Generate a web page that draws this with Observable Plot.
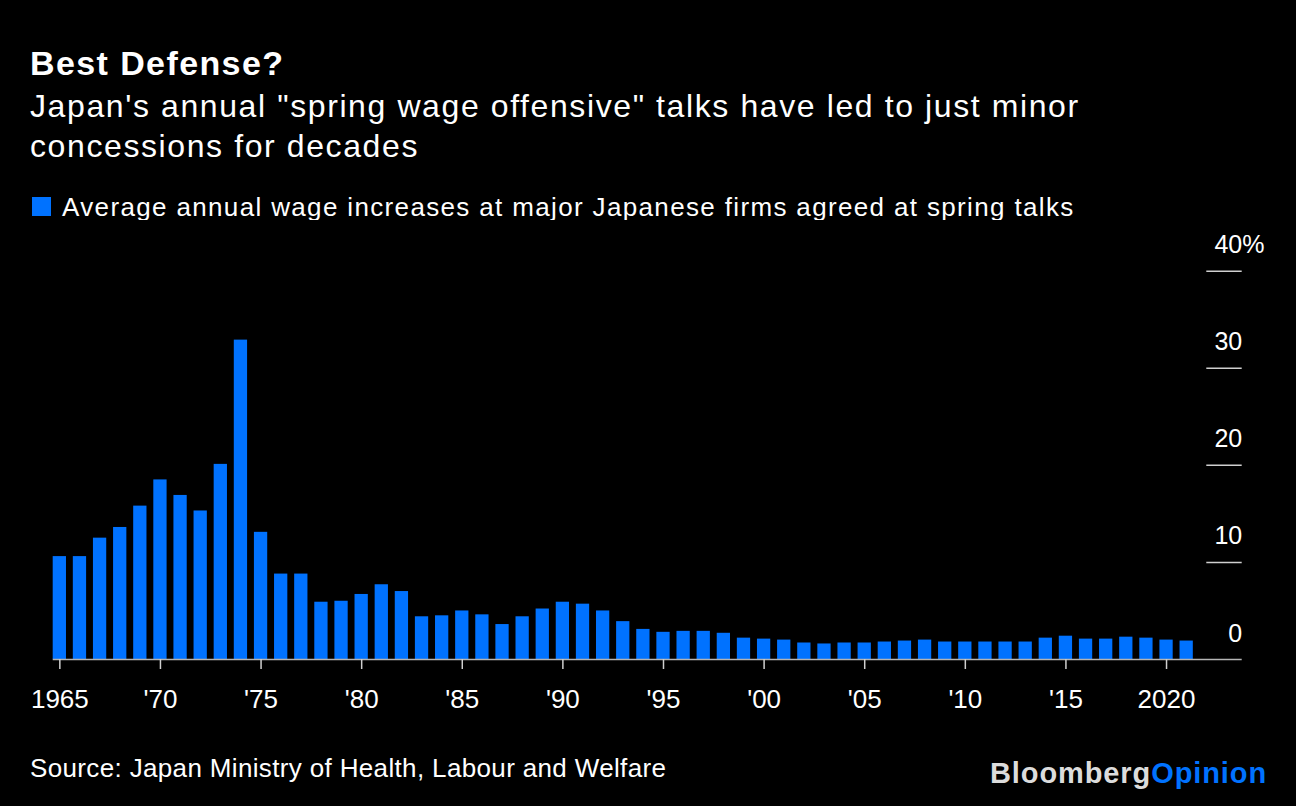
<!DOCTYPE html>
<html>
<head>
<meta charset="utf-8">
<script src="https://cdn.jsdelivr.net/npm/d3@7"></script>
<script src="https://cdn.jsdelivr.net/npm/@observablehq/plot@0.6"></script>
<style>
  html, body { margin: 0; padding: 0; background: #000; }
  body { width: 1296px; height: 806px; position: relative; overflow: hidden; font-family: "Liberation Sans", Arial, sans-serif; color: #fff; }
  .abs { position: absolute; white-space: nowrap; }
  #title { left: 30px; top: 46px; font-size: 34px; line-height: 34px; font-weight: bold; letter-spacing: 1.4px; }
  #subtitle { left: 30px; top: 86px; font-size: 32px; line-height: 40px; letter-spacing: 1.6px; }
  #swatch { left: 32px; top: 197px; width: 19px; height: 19px; background: #0072ff; }
  #legend { left: 62px; top: 194px; font-size: 26px; line-height: 26px; letter-spacing: 1.35px; }
  #source { left: 30px; top: 755px; font-size: 26px; line-height: 26px; letter-spacing: 0.35px; }
  #logo { left: 990px; top: 759px; font-size: 29px; line-height: 29px; font-weight: bold; letter-spacing: 0.9px; }
  #logo .b { color: #dcdcdc; }
  #logo .o { color: #0072ff; }
  #chart { left: 0; top: 220px; }
  #chart svg { overflow: visible; }
</style>
</head>
<body>
<div id="title" class="abs">Best Defense?</div>
<div id="subtitle" class="abs">Japan's annual "spring wage offensive" talks have led to just minor<br>concessions for decades</div>
<div id="swatch" class="abs"></div>
<div id="legend" class="abs">Average annual wage increases at major Japanese firms agreed at spring talks</div>
<div id="chart" class="abs"></div>
<div id="source" class="abs">Source: Japan Ministry of Health, Labour and Welfare</div>
<div id="logo" class="abs"><span class="b">Bloomberg</span><span class="o">Opinion</span></div>
<script>
const years = [1965,1966,1967,1968,1969,1970,1971,1972,1973,1974,1975,1976,1977,1978,1979,
  1980,1981,1982,1983,1984,1985,1986,1987,1988,1989,1990,1991,1992,1993,1994,1995,1996,1997,
  1998,1999,2000,2001,2002,2003,2004,2005,2006,2007,2008,2009,2010,2011,2012,2013,2014,2015,
  2016,2017,2018,2019,2020,2021];
const wageIncrease = [10.6,10.6,12.5,13.6,15.8,18.5,16.9,15.3,20.1,32.9,13.1,8.8,8.8,5.9,6.0,
  6.7,7.7,7.0,4.4,4.5,5.0,4.6,3.6,4.4,5.2,5.9,5.7,5.0,3.9,3.1,2.8,2.9,2.9,
  2.7,2.2,2.1,2.0,1.7,1.6,1.7,1.7,1.8,1.9,2.0,1.8,1.8,1.8,1.8,1.8,2.2,2.4,
  2.1,2.1,2.3,2.2,2.0,1.9];
const xTicks = [1965,1970,1975,1980,1985,1990,1995,2000,2005,2010,2015,2020];
const xTickLabels = ["1965","'70","'75","'80","'85","'90","'95","'00","'05","'10","'15","2020"];
const yTicks = [0,10,20,30,40];
const yTickLabels = ["0","10","20","30","40"];

const data = years.map((y, i) => ({year: y, value: wageIncrease[i]}));
const half = 0.33;
const blue = "#0072ff";

const chart = Plot.plot({
  width: 1296,
  height: 500,
  marginLeft: 52.7,
  marginRight: 54.3,
  marginTop: 50.7,
  marginBottom: 61,
  style: {background: "#000", color: "#fff", fontFamily: "'Liberation Sans', Arial, sans-serif", overflow: "visible"},
  x: {domain: [1964.67, 2023.76], label: null, axis: null},
  y: {domain: [0, 40], label: null, axis: null},
  marks: [
    Plot.rectY(data, {x1: d => d.year - half, x2: d => d.year + half, y1: 0, y2: "value", fill: blue}),
    Plot.ruleY([0], {stroke: "#b4b4b4", strokeWidth: 1.5}),
    Plot.ruleY(yTicks.slice(1), {x1: 2022.0, x2: 2023.76, stroke: "#cfcfcf", strokeWidth: 1.5}),
    Plot.axisX({
      ticks: xTicks,
      tickFormat: d => xTickLabels[xTicks.indexOf(d)],
      tickSize: 10,
      tickPadding: 20,
      fontSize: 26,
      stroke: "#cfcfcf",
      strokeWidth: 1.5,
      label: null
    }),
    Plot.text(yTicks, {
      y: d => d,
      text: d => yTickLabels[yTicks.indexOf(d)],
      frameAnchor: "right",
      textAnchor: "end",
      dy: -26,
      fontSize: 25,
      fill: "#fff",
      style: "letter-spacing: 1.5px"
    }),
    Plot.text([40], {
      y: d => d,
      text: () => "%",
      frameAnchor: "right",
      textAnchor: "start",
      dy: -26,
      fontSize: 25,
      fill: "#fff"
    })
  ]
});
document.getElementById("chart").appendChild(chart);
</script>
</body>
</html>
